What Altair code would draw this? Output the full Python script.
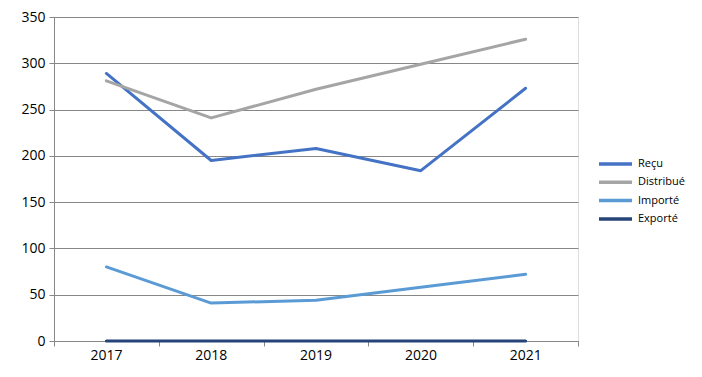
import altair as alt
import pandas as pd

years = [2017, 2018, 2019, 2020, 2021]
recu = [289, 195, 208, 184, 273]
distribue = [281, 241, 272, 299, 326]
importe = [80, 41, 44, 58, 72]
exporte = [0, 0, 0, 0, 0]

series = ["Reçu", "Distribué", "Importé", "Exporté"]
colors = ["#4472C4", "#A5A5A5", "#5B9BD5", "#264478"]

rows = []
for name, vals in zip(series, [recu, distribue, importe, exporte]):
    for y, v in zip(years, vals):
        rows.append({"Année": y, "Valeur": v, "Série": name})
df = pd.DataFrame(rows)

FONT = "Open Sans"
grid = "#878787"

chart = alt.Chart(df).mark_line(strokeWidth=3, strokeCap="round", strokeJoin="round").encode(
    x=alt.X("Année:Q",
            scale=alt.Scale(domain=[2016.5, 2021.5], nice=False, zero=False),
            axis=alt.Axis(values=[2016.5, 2017.5, 2018.5, 2019.5, 2020.5, 2021.5],
                          labelExpr="datum.value < 2021 ? format(datum.value + 0.5, 'd') : ''",
                          labelOffset=52, labelAlign="center", grid=False,
                          tickSize=5, tickColor=grid, domainColor=grid,
                          labelFontSize=14, labelFont=FONT, labelColor="#000000",
                          labelPadding=2, title=None)),
    y=alt.Y("Valeur:Q",
            scale=alt.Scale(domain=[0, 350], nice=False),
            axis=alt.Axis(values=[0, 50, 100, 150, 200, 250, 300, 350],
                          grid=True, gridColor=grid, gridWidth=1,
                          tickSize=5, tickColor=grid, domainColor=grid,
                          labelFontSize=14, labelFont=FONT, labelColor="#000000",
                          labelPadding=4, title=None)),
    color=alt.Color("Série:N",
                    scale=alt.Scale(domain=series, range=colors),
                    sort=series,
                    legend=alt.Legend(orient="none", legendX=543, legendY=138,
                                      title=None, symbolType="stroke",
                                      symbolSize=1089, symbolStrokeWidth=3.5,
                                      labelFontSize=11, labelFont=FONT,
                                      labelColor="#000000", rowPadding=0.3,
                                      clipHeight=18, labelOffset=4)),
    order=alt.Order("Année:Q"),
).properties(
    width=524, height=324,
    autosize=alt.AutoSizeParams(type="none"),
    padding={"left": 46, "top": 9, "right": 116, "bottom": 28},
).configure_view(stroke=None).configure(background="#ffffff")

chart.save("out.html", embed_options={"renderer": "svg", "actions": False})
